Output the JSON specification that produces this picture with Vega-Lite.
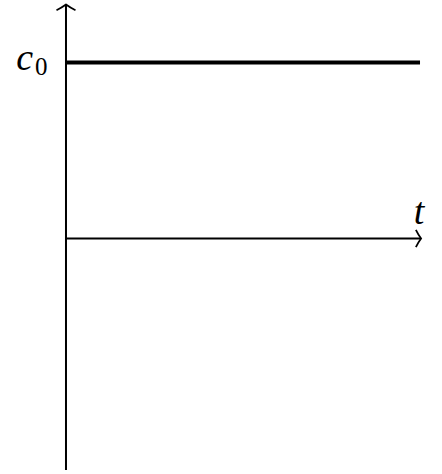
{
  "$schema": "https://vega.github.io/schema/vega-lite/v6.json",
  "width": 442,
  "height": 474,
  "autosize": {"type": "fit", "contains": "padding"},
  "padding": 0,
  "background": "white",
  "config": {"view": {"stroke": null}},
  "datasets": {
    "segments": [
      {"name": "vaxis", "x": 0, "x2": 0, "y": -6.582, "y2": 6.65, "w": "thin"},
      {"name": "haxis", "x": 0, "x2": 10.03, "y": 0, "y2": 0, "w": "thin"},
      {"name": "c0line", "x": 0, "x2": 10.0, "y": 5.0, "y2": 5.0, "w": "thick"}
    ],
    "arrows": [
      {"name": "up", "x": 0, "y": 6.65},
      {"name": "right", "x": 10.03, "y": 0}
    ],
    "labels": [
      {"text": "c", "x": -1.17, "y": 4.8, "kind": "main"},
      {"text": "0", "x": -0.7, "y": 4.66, "kind": "sub"},
      {"text": "t", "x": 9.97, "y": 0.424, "kind": "main"}
    ]
  },
  "layer": [
    {
      "data": {"name": "segments"},
      "transform": [{"filter": "datum.w === 'thin'"}],
      "mark": {"type": "rule", "color": "black", "strokeWidth": 2},
      "encoding": {
        "x": {"field": "x", "type": "quantitative", "scale": {"domain": [-1.864, 10.621], "nice": false, "zero": false}, "axis": null},
        "x2": {"field": "x2"},
        "y": {"field": "y", "type": "quantitative", "scale": {"domain": [-6.695, 6.695], "nice": false, "zero": false}, "axis": null},
        "y2": {"field": "y2"}
      }
    },
    {
      "data": {"name": "segments"},
      "transform": [{"filter": "datum.w === 'thick'"}],
      "mark": {"type": "rule", "color": "black", "strokeWidth": 4},
      "encoding": {
        "x": {"field": "x", "type": "quantitative", "scale": {"domain": [-1.864, 10.621], "nice": false, "zero": false}, "axis": null},
        "x2": {"field": "x2"},
        "y": {"field": "y", "type": "quantitative", "scale": {"domain": [-6.695, 6.695], "nice": false, "zero": false}, "axis": null},
        "y2": {"field": "y2"}
      }
    },
    {
      "data": {"name": "arrows"},
      "transform": [{"filter": "datum.name === 'up'"}],
      "mark": {"type": "point", "shape": "M-1,0.6 Q-0.4,0.3 0,0 Q0.4,0.3 1,0.6", "filled": false, "stroke": "black", "strokeWidth": 1.8, "size": 361, "opacity": 1},
      "encoding": {
        "x": {"field": "x", "type": "quantitative", "scale": {"domain": [-1.864, 10.621], "nice": false, "zero": false}, "axis": null},
        "y": {"field": "y", "type": "quantitative", "scale": {"domain": [-6.695, 6.695], "nice": false, "zero": false}, "axis": null}
      }
    },
    {
      "data": {"name": "arrows"},
      "transform": [{"filter": "datum.name === 'right'"}],
      "mark": {"type": "point", "shape": "M-0.6,-1 Q-0.3,-0.4 0,0 Q-0.3,0.4 -0.6,1", "filled": false, "stroke": "black", "strokeWidth": 1.8, "size": 300, "opacity": 1},
      "encoding": {
        "x": {"field": "x", "type": "quantitative", "scale": {"domain": [-1.864, 10.621], "nice": false, "zero": false}, "axis": null},
        "y": {"field": "y", "type": "quantitative", "scale": {"domain": [-6.695, 6.695], "nice": false, "zero": false}, "axis": null}
      }
    },
    {
      "data": {"name": "labels"},
      "transform": [{"filter": "datum.kind === 'main'"}],
      "mark": {"type": "text", "font": "Liberation Serif", "fontStyle": "italic", "fontSize": 38, "align": "center", "baseline": "alphabetic", "color": "black"},
      "encoding": {
        "x": {"field": "x", "type": "quantitative", "scale": {"domain": [-1.864, 10.621], "nice": false, "zero": false}, "axis": null},
        "y": {"field": "y", "type": "quantitative", "scale": {"domain": [-6.695, 6.695], "nice": false, "zero": false}, "axis": null},
        "text": {"field": "text"}
      }
    },
    {
      "data": {"name": "labels"},
      "transform": [{"filter": "datum.kind === 'sub'"}],
      "mark": {"type": "text", "font": "Liberation Serif", "fontSize": 25, "align": "center", "baseline": "alphabetic", "color": "black"},
      "encoding": {
        "x": {"field": "x", "type": "quantitative", "scale": {"domain": [-1.864, 10.621], "nice": false, "zero": false}, "axis": null},
        "y": {"field": "y", "type": "quantitative", "scale": {"domain": [-6.695, 6.695], "nice": false, "zero": false}, "axis": null},
        "text": {"field": "text"}
      }
    }
  ]
}
